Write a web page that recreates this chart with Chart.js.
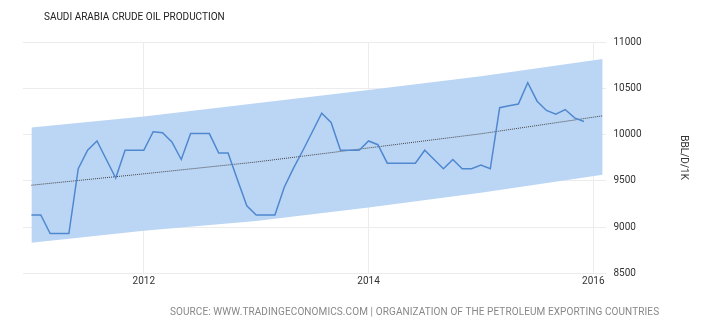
<!DOCTYPE html>
<html>
<head>
    <title>Saudi Arabia Crude Oil Production</title>
    <meta charset="UTF-8">
    <script src="https://cdn.jsdelivr.net/npm/chart.js@4/dist/chart.umd.min.js"></script>
    <style>
        body { margin: 0; background: #fff; }
        .wrap { position: relative; width: 728px; height: 328px; }
        .title {
            position: absolute; left: 44px; top: 11px;
            font: 10px Roboto, sans-serif; color: #222;
        }
        .source {
            position: absolute; left: 170px; top: 306px;
            font: 10px Roboto, sans-serif; color: #888; letter-spacing: 0.1px;
            white-space: nowrap;
        }
    </style>
</head>
<body>
    <div class="wrap">
        <canvas id="chart" width="728" height="328"></canvas>
        <div class="title">SAUDI ARABIA CRUDE OIL PRODUCTION</div>
        <div class="source">SOURCE: WWW.TRADINGECONOMICS.COM | ORGANIZATION OF THE PETROLEUM EXPORTING COUNTRIES</div>
    </div>

    <script>
        // Monthly production, Jan 2011 .. Dec 2015 (thousand barrels per day)
        const production = [
            9130, 9130, 8930, 8930, 8930, 9630, 9830, 9930, 9730, 9530, 9830, 9830,
            9830, 10030, 10020, 9920, 9730, 10010, 10010, 10010, 9800, 9800, 9510, 9230,
            9130, 9130, 9130, 9430, 9640, 9830, 10030, 10230, 10130, 9830, 9830, 9830,
            9930, 9890, 9690, 9690, 9690, 9690, 9830, 9730, 9630, 9730, 9630, 9630,
            9670, 9630, 10290, 10310, 10330, 10560, 10360, 10260, 10220, 10270, 10180, 10140
        ];

        // Trend line and its band, sampled at month offsets from Jan 2011
        const trendMonths = [0, 12, 24, 36, 48, 61];
        const trendValues = [9452, 9575, 9703, 9855, 10008, 10202];
        const bandUpper = [10077, 10195, 10338, 10482, 10630, 10816];
        const bandLower = [8831, 8961, 9064, 9212, 9370, 9564];

        // x-axis labels at month offsets
        const yearTickMonths = [12, 36, 60];
        const yearTickLabels = ['2012', '2014', '2016'];

        const toPoints = (xs, ys) => xs.map((x, i) => ({ x: x, y: ys[i] }));

        new Chart(document.getElementById('chart'), {
            type: 'line',
            data: {
                datasets: [
                    {
                        label: 'Production',
                        data: production.map((v, i) => ({ x: i, y: v })),
                        borderColor: '#4f88cf',
                        borderWidth: 1.5,
                        pointRadius: 0,
                        tension: 0,
                        fill: false,
                        order: 0
                    },
                    {
                        label: 'Trend',
                        data: toPoints(trendMonths, trendValues),
                        borderColor: '#444',
                        borderWidth: 1,
                        borderDash: [1, 1],
                        pointRadius: 0,
                        tension: 0,
                        fill: false,
                        order: 1
                    },
                    {
                        label: 'Upper',
                        data: toPoints(trendMonths, bandUpper),
                        borderWidth: 0,
                        borderColor: 'rgba(0,0,0,0)',
                        backgroundColor: 'rgb(187, 214, 245)',
                        pointRadius: 0,
                        tension: 0,
                        fill: '+1',
                        order: 2
                    },
                    {
                        label: 'Lower',
                        data: toPoints(trendMonths, bandLower),
                        borderWidth: 0,
                        borderColor: 'rgba(0,0,0,0)',
                        pointRadius: 0,
                        tension: 0,
                        fill: false,
                        order: 3
                    }
                ]
            },
            options: {
                responsive: false,
                animation: false,
                layout: { padding: { left: 23, top: 42, right: 35, bottom: 0 } },
                plugins: {
                    legend: { display: false },
                    tooltip: { enabled: false }
                },
                scales: {
                    x: {
                        type: 'linear',
                        min: -0.9,
                        max: 61.4,
                        afterBuildTicks: scale => {
                            scale.ticks = yearTickMonths.map(v => ({ value: v }));
                        },
                        afterFit: scale => { scale.height = 54.7; },
                        ticks: {
                            callback: v => yearTickLabels[yearTickMonths.indexOf(v)],
                            color: '#333',
                            font: { family: 'Roboto', size: 10 },
                            padding: 2,
                            maxRotation: 0
                        },
                        grid: { color: '#ececec', drawTicks: false },
                        border: { display: false }
                    },
                    y: {
                        position: 'right',
                        min: 8500,
                        max: 11000,
                        afterFit: scale => { scale.width = 86.6; },
                        ticks: {
                            stepSize: 500,
                            callback: v => String(v),
                            color: '#333',
                            font: { family: 'Roboto', size: 10 },
                            padding: 7
                        },
                        grid: { color: '#ececec', drawTicks: false },
                        border: { display: false },
                        title: {
                            display: true,
                            text: 'BBL/D/1K',
                            color: '#333',
                            font: { family: 'Roboto', size: 10 }
                        }
                    }
                }
            }
        });
    </script>
</body>
</html>
